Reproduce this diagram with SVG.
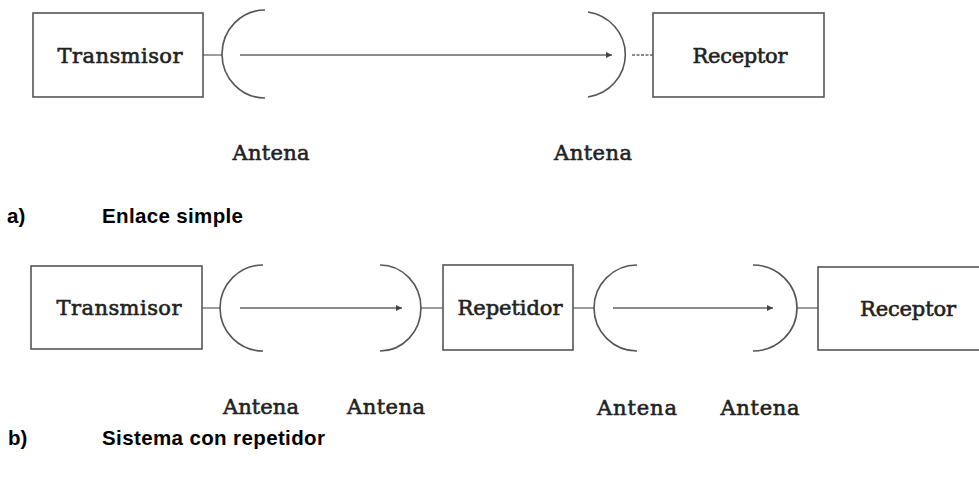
<svg xmlns="http://www.w3.org/2000/svg" width="979" height="477" viewBox="0 0 979 477">
<style>
.box{fill:#fff;stroke:#555;stroke-width:1.6}
.ln{fill:none;stroke:#666;stroke-width:1.3}
.ant{fill:none;stroke:#555;stroke-width:1.6}
.dash{fill:none;stroke:#666;stroke-width:1.3;stroke-dasharray:3 1.5}
.lbl{font-family:"DejaVu Serif","Liberation Serif",serif;font-size:21px;fill:#222;stroke:#222;stroke-width:0.6;text-anchor:middle}
.cap{font-family:"Liberation Sans",Arial,sans-serif;font-size:20.5px;font-weight:bold;fill:#000}
</style>
<defs>
<marker id="ah" viewBox="0 0 10 10" refX="10" refY="5" markerWidth="9" markerHeight="6" markerUnits="userSpaceOnUse" orient="auto">
<path d="M0,0 L10,5 L0,10 z" fill="#444"/>
</marker>
</defs>
<rect width="979" height="477" fill="#fff"/>

<g id="connectors">
<line class="ln" x1="203" y1="55" x2="222" y2="55"/>
<line class="ln" x1="240" y1="55" x2="612" y2="55" marker-end="url(#ah)"/>
<line class="dash" x1="632" y1="55" x2="653" y2="55"/>
<line class="ln" x1="202" y1="308" x2="220" y2="308"/>
<line class="ln" x1="240" y1="308" x2="402" y2="308" marker-end="url(#ah)"/>
<line class="ln" x1="421" y1="308" x2="443" y2="308"/>
<line class="ln" x1="573" y1="308" x2="594" y2="308"/>
<line class="ln" x1="613" y1="308" x2="773" y2="308" marker-end="url(#ah)"/>
<line class="ln" x1="797" y1="308" x2="818" y2="308"/>
</g>

<g id="a-transmisor">
<rect class="box" x="33" y="13" width="170" height="84"/>
<text class="lbl" x="120" y="63" textLength="125">Transmisor</text>
</g>
<g id="a-antena-tx">
<path class="ant" d="M265,10 A43,44 0 0 0 265,98"/>
<text class="lbl" x="271" y="160" textLength="77">Antena</text>
</g>
<g id="a-antena-rx">
<path class="ant" d="M588,12 A44,43 0 0 1 588,97"/>
<text class="lbl" x="593" y="160" textLength="78">Antena</text>
</g>
<g id="a-receptor">
<rect class="box" x="653" y="13" width="171" height="84"/>
<text class="lbl" x="740" y="63" textLength="95">Receptor</text>
</g>
<g id="caption-a">
<text class="cap" x="7" y="223">a)</text>
<text class="cap" x="102" y="223" textLength="141">Enlace simple</text>
</g>

<g id="b-transmisor">
<rect class="box" x="31" y="266" width="171" height="83"/>
<text class="lbl" x="119" y="315" textLength="125">Transmisor</text>
</g>
<g id="b-antena-1">
<path class="ant" d="M263,265 A43,43 0 0 0 263,351"/>
<text class="lbl" x="261" y="414" textLength="76">Antena</text>
</g>
<g id="b-antena-2">
<path class="ant" d="M380,265 A41,43 0 0 1 380,351"/>
<text class="lbl" x="386" y="414" textLength="78">Antena</text>
</g>
<g id="b-repetidor">
<rect class="box" x="443" y="265" width="130" height="85"/>
<text class="lbl" x="510" y="315" textLength="105">Repetidor</text>
</g>
<g id="b-antena-3">
<path class="ant" d="M637,265 A43,43 0 0 0 637,351"/>
<text class="lbl" x="637" y="415" textLength="80">Antena</text>
</g>
<g id="b-antena-4">
<path class="ant" d="M753,265 A44,43 0 0 1 753,351"/>
<text class="lbl" x="760" y="415" textLength="79">Antena</text>
</g>
<g id="b-receptor">
<rect class="box" x="818" y="267" width="175" height="83"/>
<text class="lbl" x="908" y="316" textLength="96">Receptor</text>
</g>
<g id="caption-b">
<text class="cap" x="8" y="445">b)</text>
<text class="cap" x="102" y="445" textLength="223">Sistema con repetidor</text>
</g>
</svg>
